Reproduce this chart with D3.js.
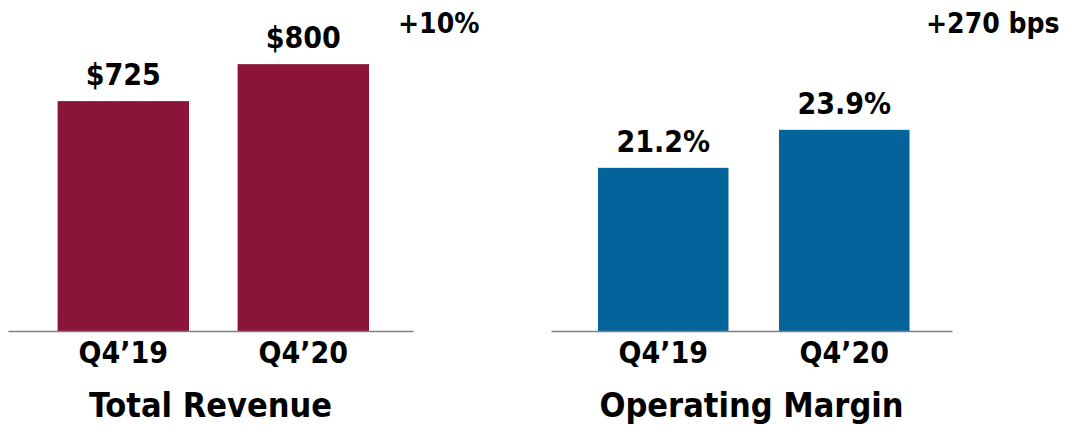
<!DOCTYPE html>
<html><head><meta charset="utf-8">
<script src="https://cdn.jsdelivr.net/npm/d3@7"></script>
<style>
html,body{margin:0;padding:0;background:#fff;}
svg{display:block;}
text{font-family:"DejaVu Sans Condensed","DejaVu Sans",sans-serif;font-stretch:condensed;font-weight:bold;fill:#000;}
</style></head>
<body>
<svg id="c" width="1068" height="427"></svg>
<script>
const categories = ["Q4\u201919", "Q4\u201920"];
const revenueValues = [725, 800];
const revenueLabels = ["$725", "$800"];
const marginValues = [21.2, 23.9];
const marginLabels = ["21.2%", "23.9%"];
const panelTitles = ["Total Revenue", "Operating Margin"];
const changeLabels = ["+10%", "+270 bps"];

const svg = d3.select("#c");
const baseY = 331;

const panels = [
  {values: revenueValues, labels: revenueLabels, title: panelTitles[0], change: changeLabels[0],
   color: "#8a1538", range: [8, 413], domain: [259, 930], pi: 0.27, po: 0.26, align: 0.53, changeX: 398},
  {values: marginValues, labels: marginLabels, title: panelTitles[1], change: changeLabels[1],
   color: "#02649b", range: [551, 952], domain: [9.6, 33.13], pi: 0.279, po: 0.247, align: 0.525, changeX: 926}
];

panels.forEach(p => {
  const x = d3.scaleBand().domain(categories).range(p.range)
    .paddingInner(p.pi).paddingOuter(p.po).align(p.align);
  const y = d3.scaleLinear().domain(p.domain).range([baseY, 0]);
  const g = svg.append("g");
  const data = categories.map((c, i) => ({c, v: p.values[i], l: p.labels[i]}));

  g.selectAll("rect").data(data).join("rect")
    .attr("x", d => x(d.c)).attr("width", x.bandwidth())
    .attr("y", d => y(d.v)).attr("height", d => baseY - y(d.v))
    .attr("fill", p.color);

  g.selectAll("text.val").data(data).join("text").attr("class", "val")
    .attr("x", d => x(d.c) + x.bandwidth() / 2).attr("y", d => y(d.v) - 16)
    .attr("text-anchor", "middle").style("font-size", "30px").text(d => d.l);

  const ax = g.append("g").attr("transform", `translate(0,${baseY})`)
    .call(d3.axisBottom(x).tickSize(0).tickPadding(0));
  ax.select(".domain").attr("stroke", "#7f7f7f").attr("stroke-width", 1.5);
  ax.selectAll(".tick text").attr("dy", null).attr("y", 32)
    .style("font-size", "30px").attr("fill", "#000")
    .style("font-family", "\"DejaVu Sans Condensed\",\"DejaVu Sans\",sans-serif");

  g.append("text").attr("x", (p.range[0] + p.range[1]) / 2).attr("y", 417)
    .attr("text-anchor", "middle").style("font-size", "34px").text(p.title);

  g.append("text").attr("x", p.changeX).attr("y", 33)
    .attr("text-anchor", "start").style("font-size", "28px").text(p.change);
});
</script>
</body></html>
